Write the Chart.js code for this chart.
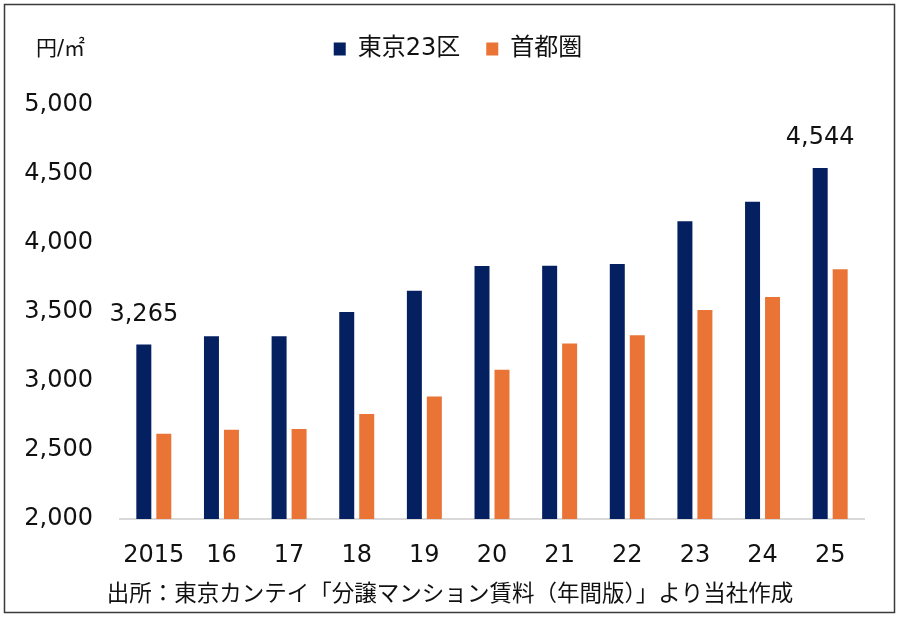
<!DOCTYPE html>
<html><head><meta charset="utf-8">
<script src="https://cdn.jsdelivr.net/npm/chart.js@4.4.1/dist/chart.umd.min.js"></script>
<style>html,body{margin:0;padding:0;background:#fff}#wrap{width:900px;height:619px;position:relative}</style>
</head><body><div id="wrap"><canvas id="c" width="900" height="619"></canvas></div>
<script>
const categories = ['2015','16','17','18','19','20','21','22','23','24','25'];
const tokyo23 = [3265, 3325, 3325, 3500, 3654, 3834, 3836, 3848, 4158, 4299, 4544];
const shutoken = [2617, 2646, 2653, 2761, 2888, 3082, 3272, 3332, 3514, 3608, 3809];
const seriesNames = ['東京23区', '首都圏'];
const yMin = 2000, yMax = 5000, yStep = 500;
const labelledIdx = [0, 10];
const unitLabel = '円/㎡';
const sourceText = '出所：東京カンテイ「分譲マンション賃料（年間版）」より当社作成';

const FONT = '"DejaVu Sans", "Noto Sans CJK JP", sans-serif';
const NAVY = '#042060', ORANGE = '#E97435';

const legendTweak = {
  id: 'legendTweak',
  beforeInit(chart) {
    const lg = chart.legend;
    if (!lg) return;
    const orig = lg.fit;
    lg.fit = function () { orig.call(this); this.height += 34; };
  },
  afterLayout(chart) {
    const lg = chart.legend;
    if (!lg) return;
    lg.left += 26; lg.right += 26;
  }
};

const extras = {
  id: 'extras',
  afterDatasetsDraw(chart) {
    const ctx = chart.ctx;
    ctx.save();
    const meta = chart.getDatasetMeta(0);
    ctx.fillStyle = '#111';
    ctx.font = '24px ' + FONT;
    ctx.textAlign = 'center';
    ctx.textBaseline = 'bottom';
    labelledIdx.forEach(i => {
      const el = meta.data[i];
      ctx.fillText(tokyo23[i].toLocaleString('en-US'), el.x, el.y - 18);
    });
    ctx.font = '21px ' + FONT;
    ctx.textAlign = 'left';
    ctx.textBaseline = 'middle';
    ctx.fillText(unitLabel, 36, 50);
    ctx.font = '22.5px ' + FONT;
    ctx.textAlign = 'center';
    ctx.fillText(sourceText, 450, 595);
    ctx.strokeStyle = '#3a3a3a';
    ctx.lineWidth = 1.5;
    ctx.strokeRect(4.5, 4.5, 890, 608);
    ctx.restore();
  }
};

new Chart(document.getElementById('c'), {
  type: 'bar',
  data: {
    labels: categories,
    datasets: [
      { label: seriesNames[0], data: tokyo23, backgroundColor: NAVY },
      { label: seriesNames[1], data: shutoken, backgroundColor: ORANGE }
    ]
  },
  options: {
    responsive: false,
    animation: false,
    devicePixelRatio: 1,
    layout: { padding: { top: 11, right: 36, left: 0, bottom: 0 } },
    datasets: { bar: { categoryPercentage: 0.591, barPercentage: 0.75 } },
    plugins: {
      legend: {
        display: true,
        position: 'top',
        labels: {
          font: { family: FONT, size: 24 },
          color: '#111',
          boxWidth: 12,
          boxHeight: 13,
          padding: 26
        }
      },
      tooltip: { enabled: false }
    },
    scales: {
      x: {
        grid: { display: false, drawTicks: false },
        border: { display: true, color: '#d9d9d9', width: 2 },
        ticks: { font: { family: FONT, size: 24 }, color: '#111', padding: 22, maxRotation: 0 },
        afterFit(s) { s.height = 100; }
      },
      y: {
        min: yMin, max: yMax,
        grid: { display: false, drawTicks: false },
        border: { display: false },
        ticks: {
          stepSize: yStep,
          font: { family: FONT, size: 24 },
          color: '#111',
          padding: 27,
          callback: v => v.toLocaleString('en-US')
        },
        afterFit(s) { s.width = 120; }
      }
    }
  },
  plugins: [legendTweak, extras]
});
</script>
</body></html>
